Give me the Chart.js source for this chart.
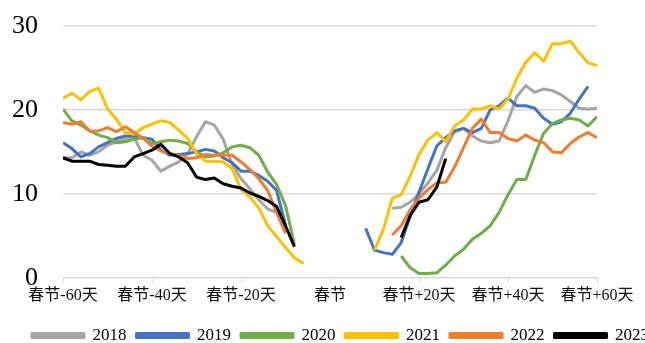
<!DOCTYPE html>
<html>
<head>
<meta charset="utf-8">
<script src="https://cdn.jsdelivr.net/npm/chart.js@4"></script>
<style>
  body { margin: 0; background: #fff; }
  #wrap { width: 645px; height: 343px; }
</style>
</head>
<body>
<div id="wrap"><canvas id="lineChart"></canvas></div>
<script>
// days relative to Spring Festival, every 2 days
const days = [];
for (let d = -60; d <= 60; d += 2) days.push(d);

const years = ['2018', '2019', '2020', '2021', '2022', '2023'];
const colors = ['#A5A5A5', '#4472C4', '#70AD47', '#FFC000', '#ED7D31', '#000000'];
const yTicks = [0, 10, 20, 30];

const gap = [null, null, null, null, null, null]; // -4 .. 6

const v2018 = [14.3, 14.3, 15.0, 14.6, 15.0, 15.8, 16.2, 16.5, 16.7, 14.6, 14.0, 12.7, 13.3, 13.8,
  14.8, 16.8, 18.6, 18.2, 16.5, 13.5, 11.8, 10.6, 9.3, 8.2, 7.8, 6.8, null, null]
  .concat(gap, [null, null, null, 8.3, 8.4, 9.0, 10.0, 11.3, 12.8, 15.5, 17.4, 17.8, 16.9, 16.3,
  16.1, 16.3, 18.7, 21.6, 22.9, 22.1, 22.5, 22.3, 21.8, 21.0, 20.2, 20.1, 20.2]);

const v2019 = [16.1, 15.4, 14.4, 14.8, 15.6, 16.1, 16.6, 16.9, 16.9, 16.7, 16.5, 15.2, 14.6, 14.7,
  14.8, 15.0, 15.3, 15.1, 14.3, 13.7, 12.7, 12.7, 12.2, 11.5, 10.4, 6.3, null, null]
  .concat(gap, [5.9, 3.3, 3.0, 2.8, 4.2, 7.3, 10.2, 13.0, 15.7, 16.7, 17.5, 17.8, 17.3, 17.8,
  20.0, 20.5, 21.4, 20.5, 20.5, 20.2, 19.0, 18.3, 18.6, 19.6, 21.3, 22.8, null]);

const v2020 = [20.1, 18.7, 18.2, 17.5, 17.0, 16.7, 16.1, 16.2, 16.5, 16.7, 16.0, 16.2, 16.4, 16.3,
  16.0, 15.0, 14.4, 14.5, 14.9, 15.6, 15.8, 15.5, 14.6, 12.6, 11.1, 8.6, 4.0, null]
  .concat(gap, [null, null, null, null, 2.6, 1.2, 0.5, 0.5, 0.6, 1.5, 2.6, 3.4, 4.6, 5.3,
  6.2, 7.8, 9.9, 11.7, 11.7, 14.6, 17.2, 18.4, 18.8, 19.0, 18.8, 18.1, 19.2]);

const v2021 = [21.4, 22.0, 21.2, 22.2, 22.6, 20.1, 18.9, 17.3, 17.1, 17.9, 18.3, 18.7, 18.5, 17.6,
  16.6, 14.8, 13.9, 13.9, 13.8, 13.0, 10.5, 9.6, 8.3, 6.2, 4.9, 3.6, 2.4, 1.7]
  .concat(gap, [null, 3.3, 5.8, 9.5, 9.9, 12.1, 14.7, 16.4, 17.3, 16.2, 18.1, 18.8, 20.1, 20.1,
  20.5, 20.1, 21.3, 23.8, 25.7, 26.8, 25.8, 27.9, 27.9, 28.2, 26.8, 25.6, 25.3]);

const v2022 = [18.5, 18.3, 18.6, 17.5, 17.5, 17.9, 17.4, 18.0, 17.3, 16.6, 15.7, 15.1, 14.8, 14.6,
  14.2, 14.3, 14.7, 14.6, 14.6, 14.6, 13.8, 12.9, 11.8, 10.4, 7.8, 5.3, null, null]
  .concat(gap, [null, null, null, 5.1, 6.2, 8.1, 9.5, 10.5, 11.3, 11.4, 13.2, 15.5, 17.8, 18.9,
  17.3, 17.3, 16.6, 16.3, 17.0, 16.4, 16.1, 15.0, 14.9, 16.0, 16.8, 17.3, 16.7]);

const v2023 = [14.3, 13.9, 13.9, 13.9, 13.5, 13.4, 13.3, 13.3, 14.4, 14.8, 15.2, 15.9, 14.8, 14.4,
  13.7, 12.0, 11.7, 11.9, 11.2, 10.9, 10.7, 10.1, 9.7, 9.2, 8.5, 6.2, 3.7, null]
  .concat(gap, [null, null, null, null, 4.8, 7.4, 9.0, 9.3, 10.8, 14.2, null, null, null, null,
  null, null, null, null, null, null, null, null, null, null, null, null, null]);

const series = [v2018, v2019, v2020, v2021, v2022, v2023];

const serif = "'Liberation Serif', 'Times New Roman', 'Noto Sans CJK SC', serif";

const datasets = series.map((vals, i) => ({
  label: years[i],
  data: days.map((d, k) => ({ x: d, y: vals[k] })),
  borderColor: colors[i],
  backgroundColor: colors[i],
  borderWidth: 3,
  pointRadius: 0,
  tension: 0,
  spanGaps: false,
  borderJoinStyle: 'round',
  order: series.length - i // later years drawn on top
}));

// nudge the legend row right and down, like the original
const legendShift = {
  id: 'legendShift',
  afterLayout(chart) {
    const lg = chart.legend;
    lg.left += 22;
    lg.right += 22;
    lg.top += 9;
    lg.bottom += 9;
  }
};

const ctx = document.getElementById('lineChart').getContext('2d');

new Chart(ctx, {
  type: 'line',
  data: { datasets: datasets },
  plugins: [legendShift],
  options: {
    responsive: true,
    maintainAspectRatio: false,
    animation: false,
    layout: { padding: { left: 0, right: 0, top: 0, bottom: -2 } },
    plugins: {
      tooltip: { enabled: false },
      legend: {
        position: 'bottom',
        align: 'start',
        labels: {
          sort: (a, b) => a.datasetIndex - b.datasetIndex,
          boxWidth: 52,
          boxHeight: 4,
          padding: 10,
          color: '#000',
          font: { family: serif, size: 17 }
        }
      }
    },
    scales: {
      x: {
        type: 'linear',
        min: -60,
        max: 60,
        afterFit: axis => { axis.paddingRight = 48; },
        ticks: {
          stepSize: 20,
          autoSkip: false,
          maxRotation: 0,
          color: '#111',
          font: { family: serif, size: 16 },
          callback: function(value) {
            if (value === 0) return '春节';
            return value < 0 ? '春节' + value + '天' : '春节+' + value + '天';
          }
        },
        grid: { drawOnChartArea: false, drawTicks: true, tickLength: 5, color: '#D9D9D9' },
        border: { color: '#D9D9D9', width: 1 }
      },
      y: {
        min: yTicks[0],
        max: yTicks[yTicks.length - 1],
        afterFit: axis => { axis.width = 63; axis.paddingTop = 26; },
        ticks: {
          stepSize: yTicks[1] - yTicks[0],
          color: '#000',
          padding: 25,
          font: { family: serif, size: 26 }
        },
        grid: { color: '#D9D9D9', lineWidth: 1.5, drawTicks: false },
        border: { display: false }
      }
    }
  }
});
</script>
</body>
</html>
